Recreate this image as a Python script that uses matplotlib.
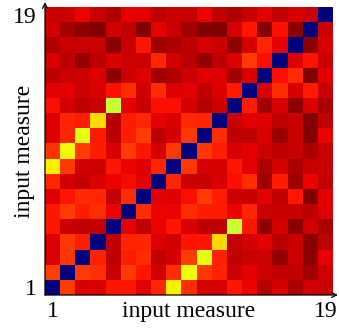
import numpy as np
from matplotlib import pyplot as plt

# values, one list per row (row_1 is the bottom row)
row_1 = [0, 0.847, 0.920, 0.920, 0.885, 0.885, 0.917, 0.868, 0.655, 0.860, 0.923, 0.923, 0.885, 0.906, 0.951, 0.920, 0.958, 0.927, 0.937]
row_2 = [0.843, 0, 0.847, 0.856, 0.934, 0.847, 0.885, 0.927, 0.860, 0.640, 0.851, 0.873, 0.930, 0.913, 0.927, 0.941, 0.941, 0.965, 0.927]
row_3 = [0.920, 0.851, 0, 0.873, 0.944, 0.877, 0.860, 0.941, 0.923, 0.847, 0.625, 0.873, 0.944, 0.934, 0.930, 0.979, 0.930, 0.986, 0.910]
row_4 = [0.920, 0.851, 0.877, 0, 0.941, 0.868, 0.868, 0.917, 0.927, 0.887, 0.885, 0.680, 0.941, 0.923, 0.913, 0.948, 0.934, 0.990, 0.944]
row_5 = [0.885, 0.934, 0.944, 0.941, 0, 0.910, 0.944, 0.906, 0.885, 0.920, 0.944, 0.944, 0.590, 0.885, 0.982, 0.923, 0.986, 0.927, 0.958]
row_6 = [0.885, 0.847, 0.877, 0.860, 0.906, 0, 0.860, 0.903, 0.906, 0.860, 0.877, 0.877, 0.906, 0.868, 0.934, 0.934, 0.937, 0.948, 0.917]
row_7 = [0.917, 0.885, 0.860, 0.864, 0.941, 0.860, 0, 0.913, 0.917, 0.893, 0.847, 0.877, 0.930, 0.934, 0.913, 0.944, 0.885, 0.993, 0.913]
row_8 = [0.868, 0.927, 0.941, 0.920, 0.906, 0.895, 0.913, 0, 0.868, 0.930, 0.937, 0.920, 0.893, 0.860, 0.969, 0.877, 0.972, 0.906, 0.941]
row_9 = [0.655, 0.851, 0.927, 0.930, 0.885, 0.906, 0.917, 0.868, 0, 0.851, 0.923, 0.923, 0.885, 0.913, 0.958, 0.923, 0.958, 0.937, 0.937]
row_10 = [0.855, 0.645, 0.847, 0.877, 0.920, 0.847, 0.885, 0.923, 0.851, 0, 0.851, 0.877, 0.923, 0.913, 0.930, 0.944, 0.937, 0.958, 0.934]
row_11 = [0.920, 0.868, 0.625, 0.881, 0.948, 0.877, 0.843, 0.948, 0.923, 0.851, 0, 0.860, 0.944, 0.944, 0.920, 0.976, 0.934, 0.993, 0.906]
row_12 = [0.920, 0.868, 0.877, 0.678, 0.951, 0.877, 0.868, 0.913, 0.920, 0.864, 0.868, 0, 0.934, 0.917, 0.917, 0.944, 0.934, 0.993, 0.944]
row_13 = [0.893, 0.927, 0.944, 0.934, 0.590, 0.910, 0.937, 0.893, 0.893, 0.925, 0.951, 0.930, 0, 0.881, 0.972, 0.920, 0.986, 0.920, 0.958]
row_14 = [0.913, 0.913, 0.930, 0.920, 0.893, 0.860, 0.927, 0.860, 0.917, 0.911, 0.944, 0.920, 0.881, 0, 0.920, 0.860, 0.920, 0.881, 0.937]
row_15 = [0.948, 0.930, 0.930, 0.917, 0.982, 0.930, 0.917, 0.972, 0.955, 0.932, 0.917, 0.917, 0.972, 0.920, 0, 0.893, 0.860, 1.0, 0.913]
row_16 = [0.920, 0.944, 0.979, 0.944, 0.920, 0.930, 0.937, 0.868, 0.927, 0.946, 0.979, 0.944, 0.917, 0.847, 0.893, 0, 0.917, 0.889, 0.934]
row_17 = [0.955, 0.937, 0.930, 0.934, 0.986, 0.934, 0.883, 0.972, 0.958, 0.942, 0.923, 0.930, 0.986, 0.923, 0.868, 0.913, 0, 0.986, 0.920]
row_18 = [0.927, 0.965, 0.986, 0.993, 0.927, 0.941, 0.993, 0.910, 0.937, 0.968, 0.993, 1.0, 0.923, 0.885, 0.993, 0.893, 0.986, 0, 0.937]
row_19 = [0.934, 0.930, 0.906, 0.937, 0.955, 0.910, 0.913, 0.944, 0.934, 0.934, 0.906, 0.941, 0.955, 0.937, 0.913, 0.941, 0.920, 0.937, 0]

tick_labels = ["1", "19"]
axis_label = "input measure"


def main():
    rows = [row_1, row_2, row_3, row_4, row_5, row_6, row_7, row_8, row_9, row_10,
            row_11, row_12, row_13, row_14, row_15, row_16, row_17, row_18, row_19]
    data = np.array(rows)
    n = data.shape[0]

    plt.rcParams['font.family'] = 'Liberation Serif'
    fig = plt.figure(figsize=(3.39, 3.31), dpi=100)
    ax = fig.add_axes([45 / 339, 36 / 331, 288 / 339, 288 / 331])

    ax.imshow(data, origin='lower', cmap='jet', vmin=0, vmax=1,
              aspect='auto', interpolation='nearest')

    for s in ax.spines.values():
        s.set_visible(False)

    # axis lines with open arrow heads
    arrow = dict(arrowstyle='->', lw=0.9, color='black', shrinkA=0, shrinkB=0, mutation_scale=9)
    ax.annotate('', xy=(1.017, 0), xytext=(0, 0), xycoords='axes fraction',
                arrowprops=arrow, annotation_clip=False)
    ax.annotate('', xy=(0, 1.017), xytext=(0, 0), xycoords='axes fraction',
                arrowprops=arrow, annotation_clip=False)

    ax.set_xticks([0, n - 1], tick_labels, fontsize=17)
    ax.set_yticks([0, n - 1], tick_labels, fontsize=17)
    ax.tick_params(length=0, pad=4)
    ax.tick_params(axis='y', pad=6)

    ax.set_xlabel(axis_label, fontsize=17)
    ax.set_ylabel(axis_label, fontsize=17)
    ax.xaxis.set_label_coords(0.5, -0.02)
    ax.yaxis.set_label_coords(-0.035, 0.5)

    fig.savefig('out.png', dpi=100)


if __name__ == '__main__':
    main()
